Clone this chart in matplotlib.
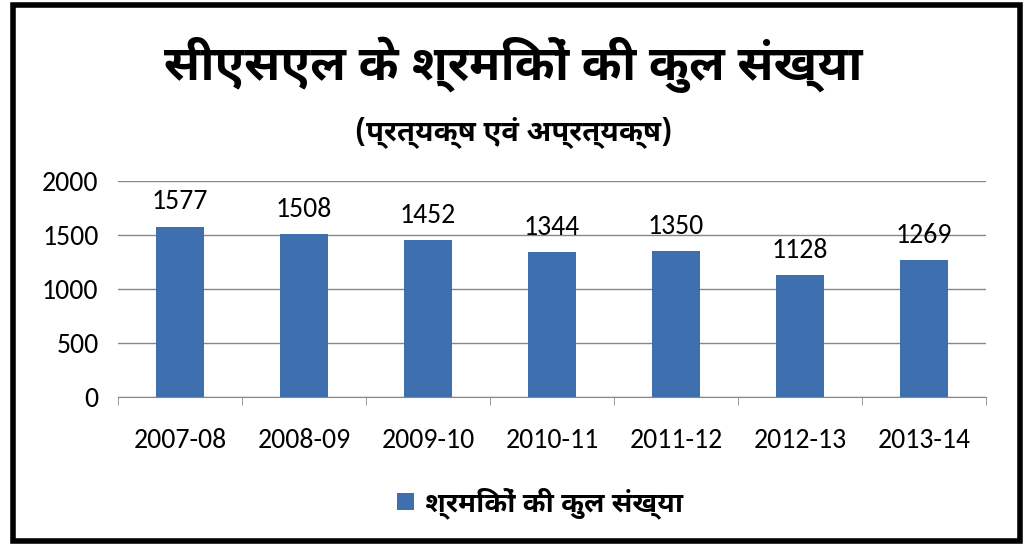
import matplotlib
matplotlib.use("Agg")
import matplotlib.pyplot as plt
from matplotlib.patches import Rectangle

years = ["2007-08", "2008-09", "2009-10", "2010-11", "2011-12", "2012-13", "2013-14"]
workers = [1577, 1508, 1452, 1344, 1350, 1128, 1269]
title = "सीएसएल के श्रमिकों की कुल संख्या"
subtitle = "(प्रत्यक्ष एवं अप्रत्यक्ष)"
series_name = "श्रमिकों की कुल संख्या"

hindi = ['Noto Sans Devanagari UI', 'Noto Sans Devanagari', 'DejaVu Sans']
plt.rcParams['font.family'] = ['Carlito', 'DejaVu Sans']

fig = plt.figure(figsize=(10.27, 5.47), dpi=100)
# outer frame
fig.patches.append(Rectangle((0.013, 0.011), 0.980, 0.980, transform=fig.transFigure,
                             fill=False, edgecolor='black', linewidth=4))

ax = fig.add_axes([118 / 1027, 1 - 397 / 547, (986 - 118) / 1027, (397 - 181) / 547])
x = range(len(years))
ax.bar(x, workers, width=0.38, color='#3e6fae', label=series_name, zorder=3)
for xi, v in zip(x, workers):
    ax.text(xi, v + 230, str(v), ha='center', va='center', fontsize=20)

ax.set_xlim(-0.5, len(years) - 0.5)
ax.set_ylim(0, 2000)
ax.set_yticks([0, 500, 1000, 1500, 2000])
ax.tick_params(axis='y', length=0, labelsize=20, pad=14)
ax.set_xticks(list(x))
ax.set_xticklabels(years, fontsize=20)
ax.set_xticks([i - 0.5 for i in range(len(years) + 1)], minor=True)
ax.tick_params(axis='x', which='major', length=0, pad=22)
ax.tick_params(axis='x', which='minor', length=6, color='#888888')
ax.grid(axis='y', color='#888888', linewidth=1, zorder=0)
for s in ['top', 'right', 'left']:
    ax.spines[s].set_visible(False)
ax.spines['bottom'].set_color('#888888')

fig.text(0.5, 1 - 65 / 547, title, ha='center', va='center', fontsize=35,
         fontweight='bold', family=hindi)
fig.text(0.5, 1 - 132 / 547, subtitle, ha='center', va='center', fontsize=21,
         fontweight='bold', family=hindi)
fig.legend(loc='center', bbox_to_anchor=(540 / 1027, 1 - 503 / 547), frameon=False,
           prop={'size': 20, 'weight': 'bold', 'family': hindi},
           handlelength=0.6, handleheight=0.6, handletextpad=0.4)

fig.savefig("out.png", dpi=100)
